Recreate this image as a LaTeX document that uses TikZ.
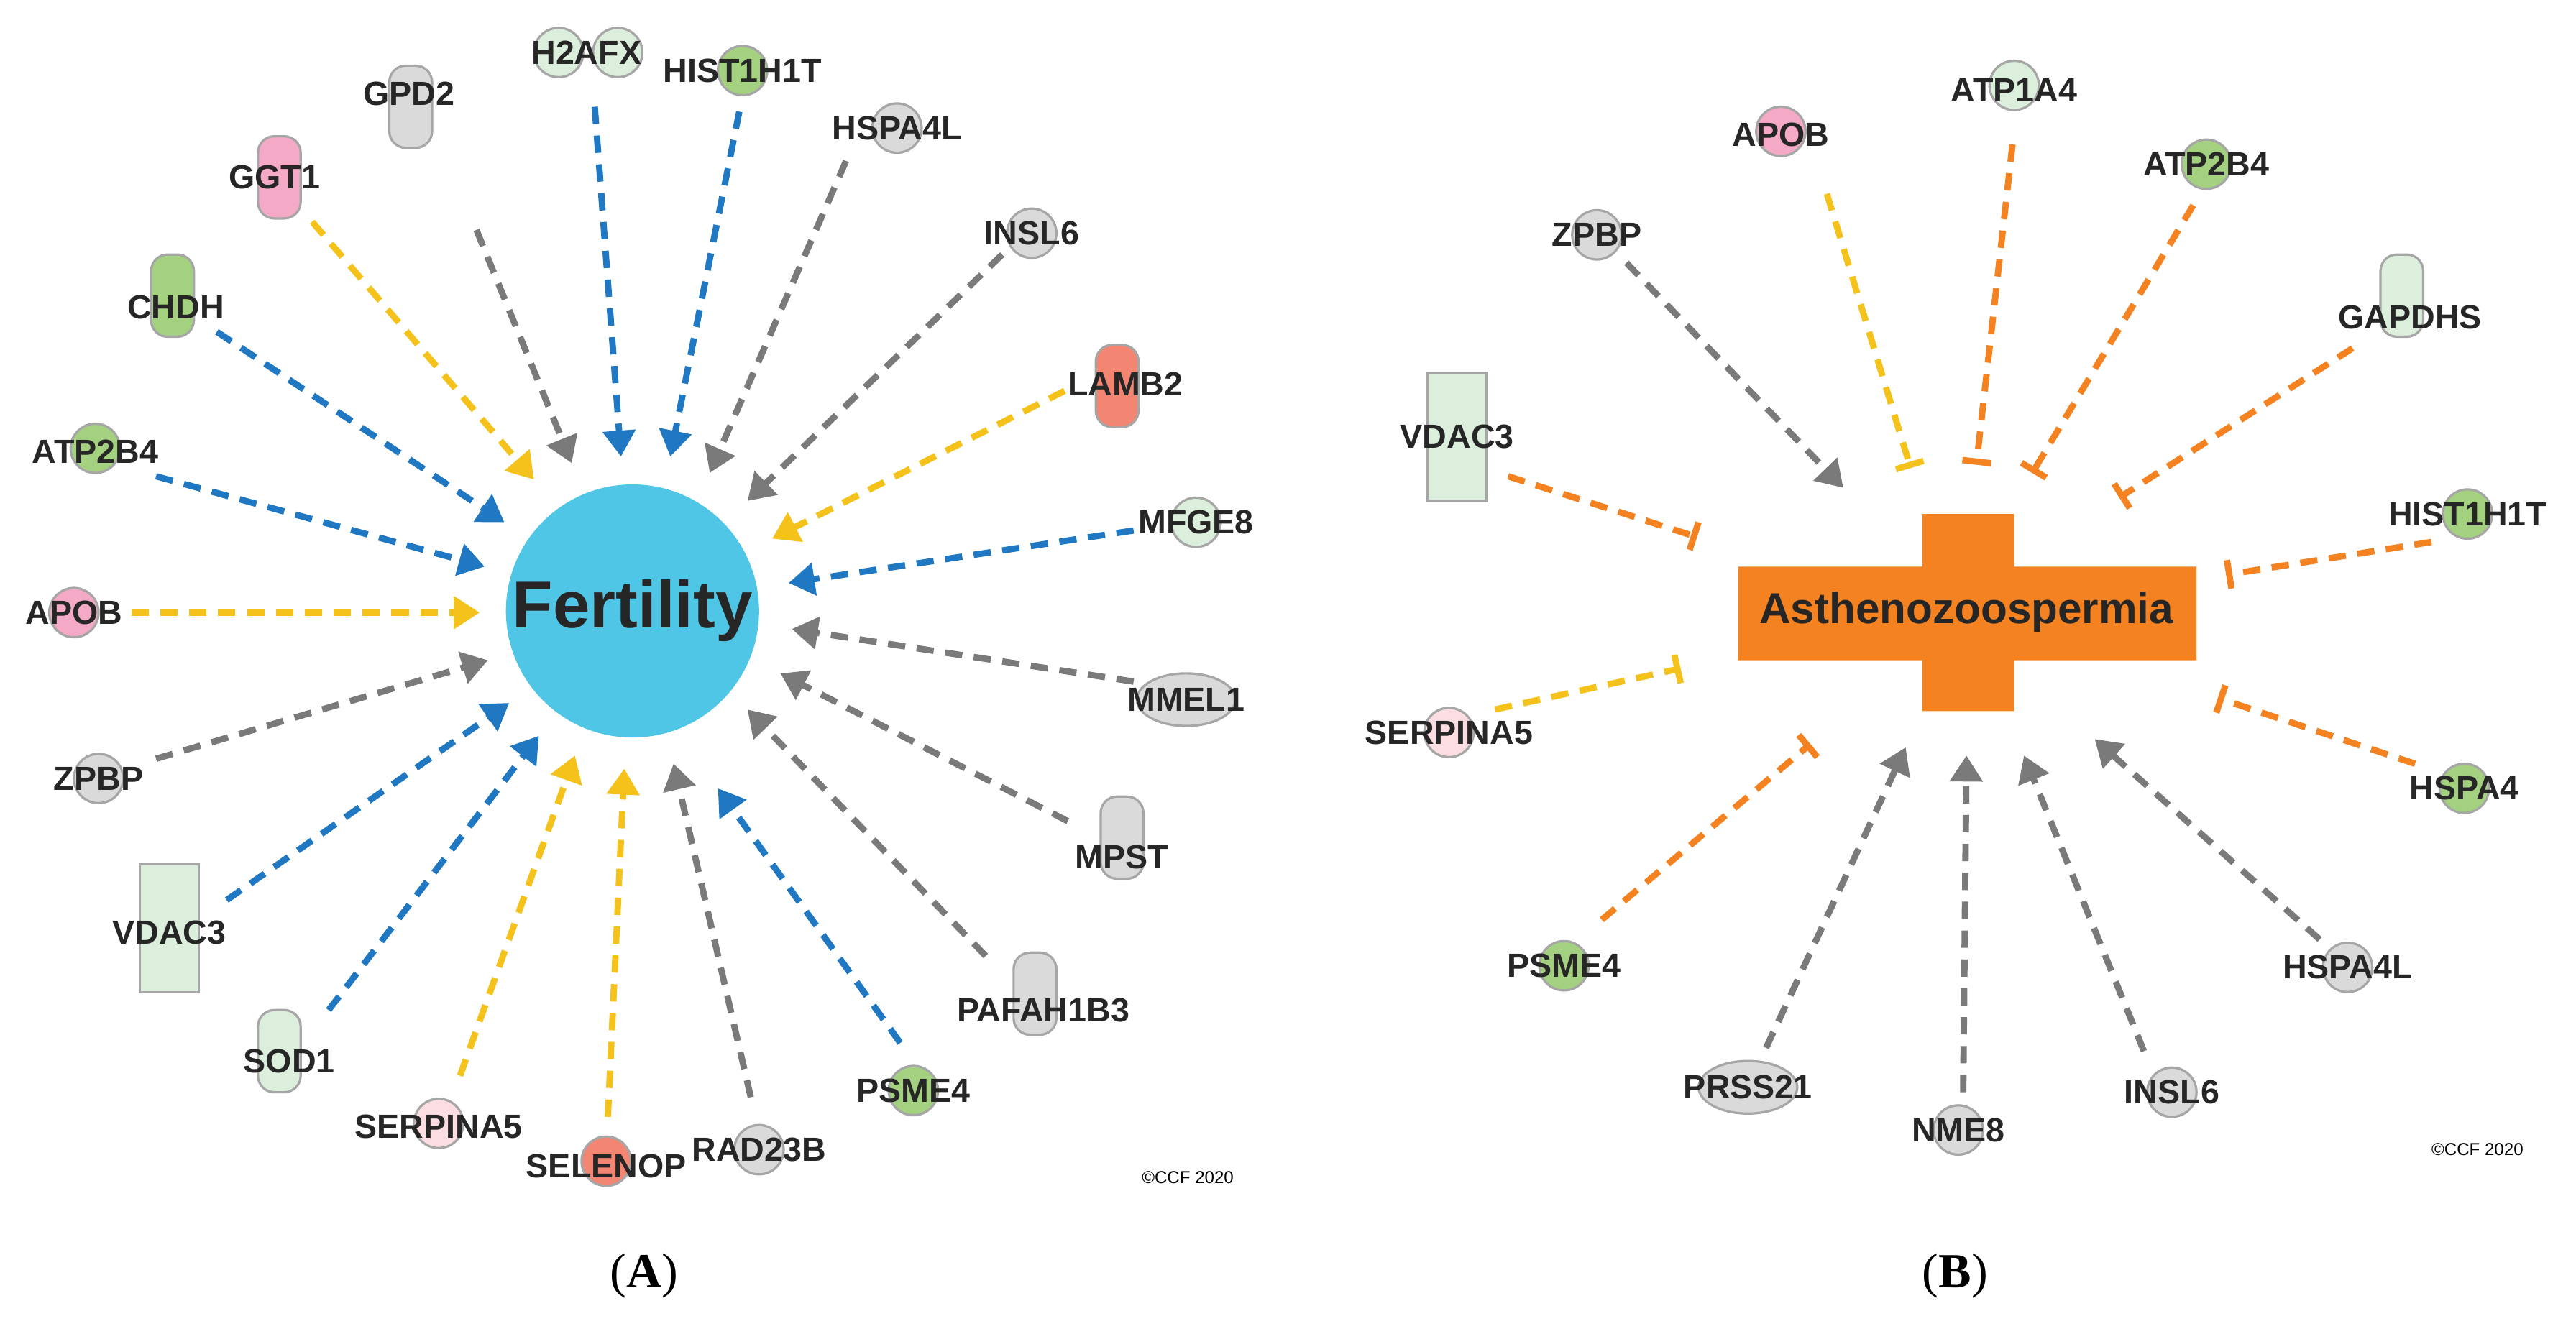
\documentclass[tikz,border=0pt]{standalone}
\usepackage{fontspec}
\setmainfont{Liberation Serif}
\newfontfamily\lab{Liberation Sans}
\usetikzlibrary{shapes.geometric,arrows.meta,positioning}
\definecolor{cgreen}{HTML}{A3D17F}
\definecolor{clgreen}{HTML}{DCEEDC}
\definecolor{cpink}{HTML}{F4A9C6}
\definecolor{clpink}{HTML}{FBDDE2}
\definecolor{cred}{HTML}{F28672}
\definecolor{cgray}{HTML}{DADADA}
\definecolor{ablue}{HTML}{1F78C1}
\definecolor{ayellow}{HTML}{F5C21B}
\definecolor{agray}{HTML}{7A7A7A}
\definecolor{aorange}{HTML}{F58220}
\definecolor{cfert}{HTML}{4FC6E6}
\tikzset{
  glabel/.style={font=\lab\fontsize{5.8}{6.5}\selectfont\bfseries, text=black!85, inner sep=0.5pt},
  dot/.style={circle, draw=black!35, fill=#1, minimum size=0.3cm, inner sep=0},
  hook/.style={rounded corners=0.1cm, draw=black!35, fill=#1, minimum width=0.26cm, minimum height=0.5cm, inner sep=0},
  vase/.style={rectangle, draw=black!35, fill=#1, minimum width=0.36cm, minimum height=0.78cm, inner sep=0},
  oval/.style={ellipse, draw=black!35, fill=#1, minimum width=0.6cm, minimum height=0.32cm, inner sep=0},
  act/.style={line width=1.1pt, dash pattern=on 3pt off 2pt, -{Triangle[length=4.5pt,width=5.5pt]}, draw=#1},
  inh/.style={line width=1.1pt, dash pattern=on 3pt off 2pt, -{Bar[width=5pt]}, draw=#1},
}
\begin{document}
\begin{tikzpicture}[x=0.01cm, y=-0.01cm]
	\useasboundingbox (0,0) rectangle (1568,812);
	% panel A shapes
	\node[hook=cgray] at (250,65) {};
	\node[dot=clgreen] at (340,32) {}; \node[dot=clgreen] at (376,32) {};
	\node[dot=cgreen] at (452,43) {};
	\node[dot=cgray] at (546,78) {};
	\node[dot=cgray] at (628,142) {};
	\node[hook=cred] at (680,235) {};
	\node[dot=clgreen] at (728,318) {};
	\node[oval=cgray] at (722,426) {};
	\node[hook=cgray] at (683,510) {};
	\node[hook=cgray] at (630,605) {};
	\node[dot=cgreen] at (556,664) {};
	\node[dot=cgray] at (462,700) {};
	\node[dot=cred] at (369,707) {};
	\node[dot=clpink] at (267,684) {};
	\node[hook=clgreen] at (170,640) {};
	\node[vase=clgreen] at (103,565) {};
	\node[dot=cgray] at (60,474) {};
	\node[dot=cpink] at (45,373) {};
	\node[dot=cgreen] at (58,273) {};
	\node[hook=cgreen] at (105,180) {};
	\node[hook=cpink] at (170,108) {};
	% panel A labels
	\node[glabel] (GPD2) at (249,57) {GPD2};
	\node[glabel] (H2AFX) at (357,32) {H2AFX};
	\node[glabel] (HIST1H1T) at (452,43) {HIST1H1T};
	\node[glabel] (HSPA4L) at (546,78) {HSPA4L};
	\node[glabel] (INSL6) at (628,142) {INSL6};
	\node[glabel] (LAMB2) at (685,234) {LAMB2};
	\node[glabel] (MFGE8) at (728,318) {MFGE8};
	\node[glabel] (MMEL1) at (722,426) {MMEL1};
	\node[glabel] (MPST) at (683,522) {MPST};
	\node[glabel] (PAFAH1B3) at (635,615) {PAFAH1B3};
	\node[glabel] (PSME4) at (556,664) {PSME4};
	\node[glabel] (RAD23B) at (462,700) {RAD23B};
	\node[glabel] (SELENOP) at (369,710) {SELENOP};
	\node[glabel] (SERPINA5) at (267,686) {SERPINA5};
	\node[glabel] (SOD1) at (176,646) {SOD1};
	\node[glabel] (VDAC3) at (103,568) {VDAC3};
	\node[glabel] (ZPBP) at (60,474) {ZPBP};
	\node[glabel] (APOB) at (45,373) {APOB};
	\node[glabel] (ATP2B4) at (58,275) {ATP2B4};
	\node[glabel] (CHDH) at (107,187) {CHDH};
	\node[glabel] (GGT1) at (167,108) {GGT1};
	\node[circle, fill=cfert, minimum size=1.54cm, inner sep=0, font=\lab\fontsize{11.5}{13}\selectfont\bfseries, text=black!85] (fert) at (385,372) {Fertility};
	% panel A arrows
	\foreach \g/\sx/\sy/\ex/\ey/\c in {GPD2/290/140/348/282/agray, H2AFX/362/65/378/278/ablue,
	  HIST1H1T/450/68/408/278/ablue, HSPA4L/515/98/432/288/agray, INSL6/610/155/455/305/agray,
	  LAMB2/648/238/470/328/ayellow, MFGE8/690/323/480/355/ablue, MMEL1/690/415/482/383/agray,
	  MPST/650/500/475/410/agray, PAFAH1B3/600/582/455/432/agray, PSME4/548/635/437/480/ablue,
	  RAD23B/457/668/410/465/agray, SELENOP/370/680/380/468/ayellow, SERPINA5/280/655/350/460/ayellow,
	  SOD1/200/615/328/448/ablue, VDAC3/138/548/310/428/ablue, ZPBP/95/462/297/402/agray,
	  APOB/80/373/292/373/ayellow, ATP2B4/95/290/295/345/ablue, CHDH/132/202/307/318/ablue,
	  GGT1/190/135/325/292/ayellow}{
	  \coordinate (s-\g) at (\sx,\sy);
	  \coordinate (e-\g) at (\ex,\ey);
	  \draw[act=\c] (s-\g) -- (e-\g);
	}
	% panel B shapes
	\node[dot=clgreen] at (1226,52) {};
	\node[dot=cpink] at (1084,80) {};
	\node[dot=cgreen] at (1343,100) {};
	\node[dot=cgray] at (972,143) {};
	\node[hook=clgreen] at (1462,180) {};
	\node[vase=clgreen] at (887,266) {};
	\node[dot=cgreen] at (1502,313) {};
	\node[dot=clpink] at (882,446) {};
	\node[dot=cgreen] at (1500,480) {};
	\node[dot=cgreen] at (952,588) {};
	\node[dot=cgray] at (1429,589) {};
	\node[oval=cgray] at (1064,662) {};
	\node[dot=cgray] at (1192,688) {};
	\node[dot=cgray] at (1322,665) {};
	% panel B labels
	\node[glabel] (b-ATP1A4) at (1226,55) {ATP1A4};
	\node[glabel] (b-APOB) at (1084,82) {APOB};
	\node[glabel] (b-ATP2B4) at (1343,100) {ATP2B4};
	\node[glabel] (b-ZPBP) at (972,143) {ZPBP};
	\node[glabel] (b-GAPDHS) at (1467,193) {GAPDHS};
	\node[glabel] (b-VDAC3) at (887,266) {VDAC3};
	\node[glabel] (b-HIST1H1T) at (1502,313) {HIST1H1T};
	\node[glabel] (b-SERPINA5) at (882,446) {SERPINA5};
	\node[glabel] (b-HSPA4) at (1500,480) {HSPA4};
	\node[glabel] (b-PSME4) at (952,588) {PSME4};
	\node[glabel] (b-HSPA4L) at (1429,589) {HSPA4L};
	\node[glabel] (b-PRSS21) at (1064,662) {PRSS21};
	\node[glabel] (b-NME8) at (1192,688) {NME8};
	\node[glabel] (b-INSL6) at (1322,665) {INSL6};
	\fill[aorange] (1058,345) rectangle (1337,402) (1170,313) rectangle (1226,433);
	\node[font=\lab\fontsize{7.5}{9}\selectfont\bfseries, text=black!85] (astheno) at (1197,373) {Asthenozoospermia};
	% panel B connectors
	\foreach \g/\sx/\sy/\ex/\ey/\c in {ATP1A4/1225/88/1203/283/aorange, APOB/1112/118/1163/285/ayellow,
	  ATP2B4/1335/125/1237/288/aorange, GAPDHS/1432/212/1290/303/aorange, VDAC3/918/290/1033/327/aorange,
	  HIST1H1T/1480/330/1355/350/aorange, SERPINA5/910/432/1023/407/ayellow, HSPA4/1470/465/1350/425/aorange,
	  PSME4/975/560/1102/453/aorange}{
	  \coordinate (bs-\g) at (\sx,\sy);
	  \coordinate (be-\g) at (\ex,\ey);
	  \draw[inh=\c] (bs-\g) -- (be-\g);
	}
	\foreach \g/\sx/\sy/\ex/\ey in {ZPBP/990/160/1122/297, HSPA4L/1412/572/1275/450,
	  PRSS21/1075/638/1160/455, NME8/1195/665/1197/460, INSL6/1305/640/1232/460}{
	  \coordinate (bs-\g) at (\sx,\sy);
	  \coordinate (be-\g) at (\ex,\ey);
	  \draw[act=agray] (bs-\g) -- (be-\g);
	}
	% captions
	\node[font=\lab\fontsize{3}{3.5}\selectfont] (ccfA) at (723,717) {\textcopyright CCF 2020};
	\node[font=\lab\fontsize{3}{3.5}\selectfont] (ccfB) at (1508,700) {\textcopyright CCF 2020};
	\node[font=\fontsize{8.5}{10}\selectfont] (capA) at (392,777) {(\textbf{A})};
	\node[font=\fontsize{8.5}{10}\selectfont] (capB) at (1190,777) {(\textbf{B})};
\end{tikzpicture}
\end{document}
